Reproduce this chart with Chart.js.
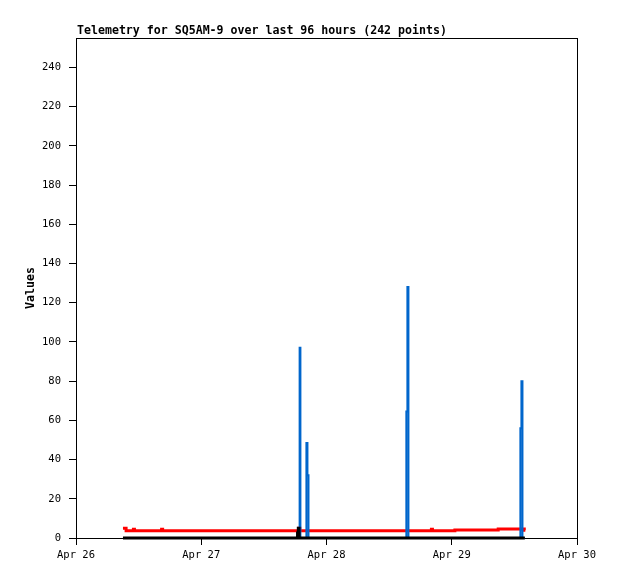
<!DOCTYPE html>
<html>
<head>
<meta charset="utf-8">
<script src="https://cdn.jsdelivr.net/npm/chart.js@4.4.1/dist/chart.umd.min.js"></script>
<style>
  html, body { margin: 0; padding: 0; background: #fff; }
  #wrap { width: 618px; height: 579px; }
</style>
</head>
<body>
<div id="wrap"><canvas id="chart" width="618" height="579"></canvas></div>
<script>
// ==========================================
// 資料 (hours since Apr 26 00:00)
// ==========================================
const titleText = 'Telemetry for SQ5AM-9 over last 96 hours (242 points)';
const xTickLabels = ['Apr 26', 'Apr 27', 'Apr 28', 'Apr 29', 'Apr 30'];
const xTickHours = [0, 24, 48, 72, 96];
const yTicks = [0, 20, 40, 60, 80, 100, 120, 140, 160, 180, 200, 220, 240];

const blueHours  = [9.0, 42.85, 42.85, 43.0, 43.0, 44.15, 44.15, 44.35, 44.35, 44.55, 44.55,
                    63.3, 63.3, 63.5, 63.5, 63.7, 63.7, 85.15, 85.15, 85.35, 85.35, 85.55, 85.55, 86.0];
const blueValues = [0,   0,     97,    97,   0,    0,     48.5,  48.5,  32,    32,    0,
                    0,    64.5, 64.5, 128,  128,  0,    0,     56,    56,    80,    80,    0,     0];

const blackHours  = [9.0, 42.45, 42.45, 42.6, 42.6, 42.75, 42.75, 86.0];
const blackValues = [0,   0,     2.5,   2.5,  5,    5,     0,     0];

const redHours  = [9.0, 9.6, 9.6, 11.0, 11.0, 11.2, 11.2, 16.4, 16.4, 16.6, 16.6, 42.7, 42.7, 42.9, 42.9,
                   68.1, 68.1, 68.3, 68.3, 72.6, 72.6, 80.9, 80.9, 85.9, 85.9, 86.1];
const redValues = [5.0, 5.0, 3.7, 3.7,  4.5,  4.5,  3.7,  3.7,  4.4,  4.4,  3.7,  3.7,  5.0,  5.0,  3.7,
                   3.7,  4.4,  4.4,  3.7,  3.7,  4.1,  4.1,  4.6,  4.6,  3.9,  3.9];

const toPoints = (xs, ys) => xs.map((x, i) => ({ x: x, y: ys[i] }));

const FONT = "'DejaVu Sans Mono', 'Liberation Mono', monospace";

// 外框 + 標題
const framePlugin = {
    id: 'frame',
    beforeDatasetsDraw(chart) {
        const { ctx, chartArea: a } = chart;
        ctx.save();
        ctx.strokeStyle = '#000';
        ctx.lineWidth = 1;
        ctx.strokeRect(a.left + 0.5, a.top + 0.5, a.right - a.left, a.bottom - a.top);
        ctx.restore();
    },
    afterDraw(chart) {
        const { ctx, chartArea: a } = chart;
        ctx.save();
        ctx.fillStyle = '#000';
        ctx.font = 'bold 11.6px ' + FONT;
        ctx.textBaseline = 'middle';
        ctx.textAlign = 'left';
        ctx.fillText(titleText, a.left + 1, 31);
        ctx.translate(31, (a.top + a.bottom) / 2);
        ctx.rotate(-Math.PI / 2);
        ctx.textAlign = 'center';
        ctx.fillText('Values', 0, 0);
        ctx.restore();
    }
};

new Chart(document.getElementById('chart').getContext('2d'), {
    type: 'line',
    data: {
        datasets: [
            { data: toPoints(blueHours, blueValues), borderColor: '#0066cc', borderWidth: 2, order: 1, clip: false },
            { data: toPoints(redHours, redValues), borderColor: '#ff0000', borderWidth: 3, order: 2, clip: false },
            { data: toPoints(blackHours, blackValues), borderColor: '#000000', borderWidth: 3, order: 0, clip: false }
        ]
    },
    options: {
        responsive: false,
        animation: false,
        elements: { point: { radius: 0 }, line: { tension: 0, borderCapStyle: 'butt', borderJoinStyle: 'miter' } },
        layout: { padding: { left: 0, top: 38, right: 41, bottom: 0 } },
        plugins: {
            legend: { display: false },
            tooltip: { enabled: false },
            title: { display: false }
        },
        scales: {
            x: {
                type: 'linear',
                min: 0,
                max: 96,
                afterBuildTicks: (s) => { s.ticks = xTickHours.map(v => ({ value: v })); },
                afterFit: (s) => { s.height = 41; },
                ticks: {
                    autoSkip: false,
                    maxRotation: 0,
                    padding: 4,
                    color: '#000',
                    font: { family: FONT, size: 10.5 },
                    callback: (v) => xTickLabels[xTickHours.indexOf(v)]
                },
                grid: { drawOnChartArea: false, drawTicks: true, tickLength: 7, color: '#000' },
                border: { display: true, color: '#000' }
            },
            y: {
                type: 'linear',
                min: 0,
                max: 255,
                afterBuildTicks: (s) => { s.ticks = yTicks.map(v => ({ value: v })); },
                afterFit: (s) => { s.width = 76; },
                ticks: {
                    autoSkip: false,
                    padding: 8,
                    color: '#000',
                    font: { family: FONT, size: 10.5 }
                },
                grid: { drawOnChartArea: false, drawTicks: true, tickLength: 7, color: '#000' },
                border: { display: true, color: '#000' }
            }
        }
    },
    plugins: [framePlugin]
});
</script>
</body>
</html>
